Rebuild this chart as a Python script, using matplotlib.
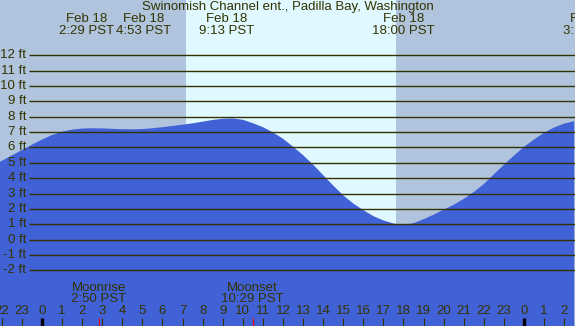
import numpy as np
import matplotlib
matplotlib.use('Agg')
import matplotlib.pyplot as plt
import matplotlib.transforms as mtransforms

plt.rcParams['font.family'] = ['Liberation Sans', 'DejaVu Sans']

title = 'Swinomish Channel ent., Padilla Bay, Washington'

# tide height (ft) every half hour, starting 22:30 on Feb 17
hours = np.arange(-2.5, 27.0, 0.5)
heights = [4.80, 5.13, 5.48, 5.83, 6.18, 6.51, 6.81, 7.02, 7.16, 7.23,
           7.25, 7.24, 7.21, 7.19, 7.18, 7.20, 7.25, 7.32, 7.40, 7.48,
           7.57, 7.68, 7.79, 7.87, 7.89, 7.80, 7.58, 7.32, 6.98, 6.57,
           6.05, 5.50, 4.88, 4.20, 3.52, 2.88, 2.35, 1.92, 1.53, 1.25,
           1.05, 0.95, 1.07, 1.33, 1.62, 1.95, 2.27, 2.65, 3.10, 3.62,
           4.25, 4.87, 5.47, 6.04, 6.52, 6.95, 7.30, 7.55, 7.71]

ft_levels = list(range(-2, 13))

hour_ticks = list(range(-2, 27))
hour_labels = ['22', '23', '0', '1', '2', '3', '4', '5', '6', '7', '8', '9',
               '10', '11', '12', '13', '14', '15', '16', '17', '18', '19',
               '20', '21', '22', '23', '0', '1', '2']
midnights = [0, 24]

sunrise, sunset = 7.17, 17.63

tide_times = [2.483, 4.883, 9.217, 18.0, 27.3]
tide_dates = ['Feb 18', 'Feb 18', 'Feb 18', 'Feb 18', 'Feb 19']
tide_labels = ['2:29 PST', '4:53 PST', '9:13 PST', '18:00 PST', '3:18 PST']
tide_nudge = [-5, 4, 0, 0, 0]  # pixels, keeps the two close labels apart

moon_times = [2.833, 10.483]
moon_names = ['Moonrise', 'Moonset']
moon_labels = ['2:50 PST', '10:29 PST']

night = '#b0c4de'
day = '#e0f8ff'
water = '#4161d7'
ink = '#333300'

W, H = 575, 326
x0, x1 = -2.09, 26.54
fig = plt.figure(figsize=(W / 100, H / 100), dpi=100)
ax = fig.add_axes([0, 0, 1, 1])
ax.set_xlim(x0, x1)
ax.set_ylim(-5.625, 15.6)
ax.axis('off')

ax.axvspan(x0, sunrise, color=night, lw=0)
ax.axvspan(sunrise, sunset, color=day, lw=0)
ax.axvspan(sunset, x1, color=night, lw=0)

ax.fill_between(hours, heights, -10, color=water, lw=0)

fs = 9.5
for lv in ft_levels:
    ax.hlines(lv, -0.63, x1, color=ink, lw=1.0)
    ax.text(-0.78, lv, f'{lv} ft', ha='right', va='center', fontsize=fs, color=ink)

xt = ax.get_xaxis_transform()
for h, lab in zip(hour_ticks, hour_labels):
    if h in midnights:
        ax.plot([h, h], [0, 8 / H], transform=xt, color='black', lw=2.4,
                solid_capstyle='butt')
    else:
        ax.plot([h, h], [0, 8 / H], transform=xt, color=ink, lw=0.8,
                solid_capstyle='butt')
    ax.text(h, 1 - 311 / H, lab, transform=xt, ha='center', va='center',
            fontsize=fs, color=ink)

for t, name, lab in zip(moon_times, moon_names, moon_labels):
    ax.plot([t, t], [0, 8 / H], transform=xt, color='red', lw=0.8,
            solid_capstyle='butt')
    ax.text(t, 1 - 288 / H, name, transform=xt, ha='center', va='center',
            fontsize=fs, color=ink)
    ax.text(t, 1 - 299.5 / H, lab, transform=xt, ha='center', va='center',
            fontsize=fs, color=ink)

for t, d, lab, dx in zip(tide_times, tide_dates, tide_labels, tide_nudge):
    tr = xt + mtransforms.ScaledTranslation(dx / 100, 0, fig.dpi_scale_trans)
    ax.text(t, 1 - 19 / H, d, transform=tr, ha='center', va='center',
            fontsize=fs, color=ink)
    ax.text(t, 1 - 31 / H, lab, transform=tr, ha='center', va='center',
            fontsize=fs, color=ink)

fig.text(0.5, 1 - 7 / H, title, ha='center', va='center', fontsize=fs, color=ink)

fig.savefig('out.png', dpi=100)
